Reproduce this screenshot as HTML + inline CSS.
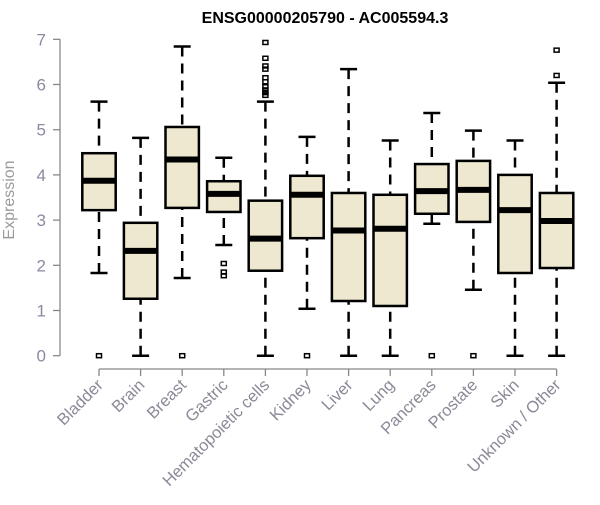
<!DOCTYPE html>
<html><head><meta charset="utf-8"><style>
body{margin:0;background:#fff}
svg text{font-family:"Liberation Sans",Arial,sans-serif}
</style></head><body>
<svg id="chart" width="600" height="500" xmlns="http://www.w3.org/2000/svg">
<text x="325" y="23" text-anchor="middle" font-size="16" font-weight="bold">ENSG00000205790 - AC005594.3</text>
<text transform="translate(14,200) rotate(-90)" text-anchor="middle" font-size="16" fill="#9a9a9a">Expression</text>
<g id="axes"></g>
<g id="boxes"></g>
</svg>
<script>
const categories=["Bladder","Brain","Breast","Gastric","Hematopoietic cells","Kidney","Liver","Lung","Pancreas","Prostate","Skin","Unknown / Other"];
const whiskerLow=[1.83,0,1.72,2.45,0,1.04,0,0,2.92,1.46,0,0];
const q1=[3.22,1.26,3.27,3.18,1.88,2.60,1.21,1.10,3.14,2.96,1.83,1.94];
const median=[3.87,2.32,4.34,3.58,2.59,3.56,2.77,2.81,3.64,3.67,3.22,2.98];
const q3=[4.48,2.94,5.06,3.86,3.43,3.98,3.60,3.56,4.24,4.31,4.00,3.60];
const whiskerHigh=[5.62,4.82,6.84,4.38,5.62,4.84,6.34,4.76,5.37,4.98,4.76,6.04];
const outliers=[[0],[],[0],[2.04,1.85,1.77],[6.93,6.58,6.41,6.34,6.15,6.06,5.95,5.88,5.82,5.76],[0],[],[],[0],[0],[],[6.76,6.20]];
const yTicks=[0,1,2,3,4,5,6,7];
const NS="http://www.w3.org/2000/svg";
function y(v){return 355.7-45.2*v;}
function x(i){return 99+i*41.6;}
function mk(tag,attrs,parent){const e=document.createElementNS(NS,tag);for(const k in attrs)e.setAttribute(k,attrs[k]);parent.appendChild(e);return e;}
const axes=document.getElementById('axes'),boxes=document.getElementById('boxes');
let yl=mk('line',{x1:60,x2:60,y1:y(0),y2:y(7),stroke:'#888','stroke-width':1.3},axes);


yTicks.forEach(t=>{
  let tk=mk('line',{x1:53,x2:60,y1:y(t),y2:y(t),stroke:'#888','stroke-width':1.3},axes);
  
  
  let tl=mk('text',{x:46,y:y(t)+6,'text-anchor':'end','font-size':17,fill:'#8a8aa0'},axes);
  tl.textContent=t;
  
  
});
let xl=mk('line',{x1:x(0),x2:x(categories.length-1),y1:369,y2:369,stroke:'#888','stroke-width':1.3},axes);


categories.forEach((c,i)=>{
  const cx=x(i);
  let tk=mk('line',{x1:cx,x2:cx,y1:369,y2:376,stroke:'#888','stroke-width':1.3},axes);
  
  
  let tl=mk('text',{transform:`translate(${cx+5},${386}) rotate(-45)`,'text-anchor':'end','font-size':16.5,fill:'#8a8a98'},axes);
  tl.textContent=c;
  
  
  const g=mk('g',{},boxes);
  
  
  const hw=16.7;
  mk('line',{x1:cx,x2:cx,y1:y(whiskerHigh[i]),y2:y(q3[i]),stroke:'#000','stroke-width':2.5,'stroke-dasharray':'10,7'},g);
  mk('line',{x1:cx,x2:cx,y1:y(whiskerLow[i]),y2:y(q1[i]),stroke:'#000','stroke-width':2.5,'stroke-dasharray':'10,7'},g);
  mk('line',{x1:cx-8.5,x2:cx+8.5,y1:y(whiskerHigh[i]),y2:y(whiskerHigh[i]),stroke:'#000','stroke-width':2.5},g);
  mk('line',{x1:cx-8.5,x2:cx+8.5,y1:y(whiskerLow[i]),y2:y(whiskerLow[i]),stroke:'#000','stroke-width':2.5},g);
  mk('rect',{x:cx-hw,y:y(q3[i]),width:2*hw,height:y(q1[i])-y(q3[i]),fill:'#ede8cf',stroke:'#000','stroke-width':2.5},g);
  mk('line',{x1:cx-hw,x2:cx+hw,y1:y(median[i]),y2:y(median[i]),stroke:'#000','stroke-width':6},g);
  outliers[i].forEach(o=>{
    let p=mk('rect',{x:cx-2.5,y:y(o)-2,width:5,height:4,fill:'none',stroke:'#000','stroke-width':1.5},g);
    
    
  });
});
</script>
</body></html>
